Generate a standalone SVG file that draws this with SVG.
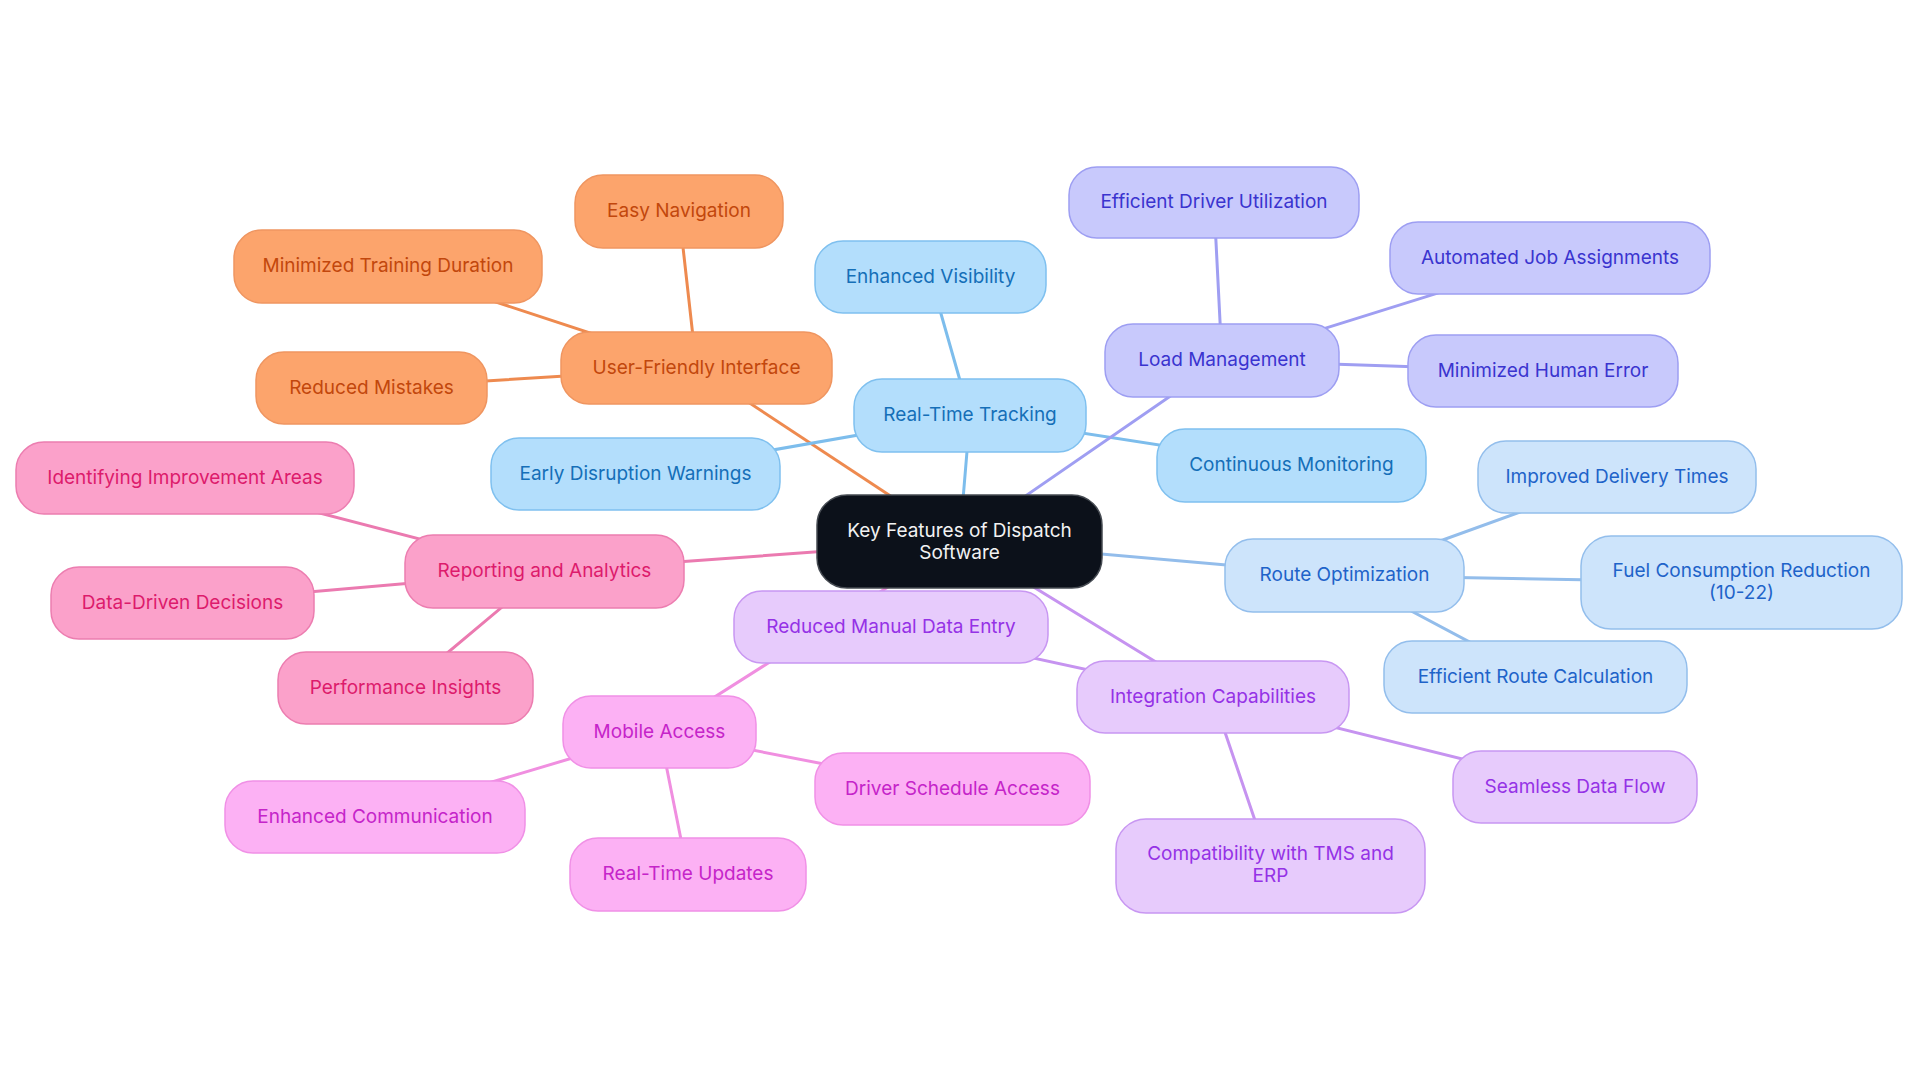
<svg xmlns="http://www.w3.org/2000/svg" width="1920" height="1083" viewBox="0 0 1920 1083">
<style>
text{font-family:Inter,"Noto Sans","Liberation Sans",sans-serif;font-size:19px;text-anchor:middle;dominant-baseline:central}
.e{stroke-width:3;fill:none;stroke-linecap:round}
rect{stroke-width:1.5}
.c0 rect{fill:#0c111a;stroke:#464b52}.c0 text{fill:#f2f2f2}
.o rect{fill:#fca46c;stroke:#ef9560}.o text{fill:#c2470c}.eo{stroke:#ee8a4f}
.b rect{fill:#b3defc;stroke:#7fc0ef}.b text{fill:#156fb8}.eb{stroke:#7dbdec}
.l rect{fill:#c8c9fc;stroke:#9d9ef2}.l text{fill:#3a34cf}.el{stroke:#9f9ef2}
.r rect{fill:#cde4fb;stroke:#93beec}.r text{fill:#1e63c9}.er{stroke:#93bdeb}
.i rect{fill:#e7cbfc;stroke:#c897f2}.i text{fill:#9532e6}.ei{stroke:#c693f0}
.m rect{fill:#fcb1f4;stroke:#f090e6}.m text{fill:#c524c9}.em{stroke:#f08fe0}
.p rect{fill:#fba1ca;stroke:#ec7db0}.p text{fill:#dd1b6c}.ep{stroke:#eb7ab0}
</style>
<rect x="0" y="0" width="1920" height="1083" fill="#ffffff" stroke="none"/>
<g id="connectors">
<line class="e eo" x1="959.5" y1="541.5" x2="696.5" y2="368"/>
<line class="e eo" x1="696.5" y1="368" x2="679" y2="211.5"/>
<line class="e eo" x1="696.5" y1="368" x2="388" y2="266.5"/>
<line class="e eo" x1="696.5" y1="368" x2="371.5" y2="388"/>
<line class="e eb" x1="959.5" y1="541.5" x2="970" y2="415.5"/>
<line class="e eb" x1="970" y1="415.5" x2="930.5" y2="277"/>
<line class="e eb" x1="970" y1="415.5" x2="635.5" y2="474"/>
<line class="e eb" x1="970" y1="415.5" x2="1291.5" y2="465.5"/>
<line class="e el" x1="959.5" y1="541.5" x2="1222" y2="360.5"/>
<line class="e el" x1="1222" y1="360.5" x2="1214" y2="202.5"/>
<line class="e el" x1="1222" y1="360.5" x2="1550" y2="258"/>
<line class="e el" x1="1222" y1="360.5" x2="1543" y2="371"/>
<line class="e er" x1="959.5" y1="541.5" x2="1344.5" y2="575.5"/>
<line class="e er" x1="1344.5" y1="575.5" x2="1617" y2="477"/>
<line class="e er" x1="1344.5" y1="575.5" x2="1741.5" y2="582.5"/>
<line class="e er" x1="1344.5" y1="575.5" x2="1535.5" y2="677"/>
<line class="e ei" x1="959.5" y1="541.5" x2="1213" y2="697"/>
<line class="e ei" x1="1213" y1="697" x2="891" y2="627"/>
<line class="e ei" x1="1213" y1="697" x2="1575" y2="787"/>
<line class="e ei" x1="1213" y1="697" x2="1270.5" y2="866"/>
<line class="e em" x1="959.5" y1="541.5" x2="659.5" y2="732"/>
<line class="e em" x1="659.5" y1="732" x2="375" y2="817"/>
<line class="e em" x1="659.5" y1="732" x2="952.5" y2="789"/>
<line class="e em" x1="659.5" y1="732" x2="688" y2="874.5"/>
<line class="e ep" x1="959.5" y1="541.5" x2="544.5" y2="571.5"/>
<line class="e ep" x1="544.5" y1="571.5" x2="185" y2="478"/>
<line class="e ep" x1="544.5" y1="571.5" x2="182.5" y2="603"/>
<line class="e ep" x1="544.5" y1="571.5" x2="405.5" y2="688"/>
</g>
<g id="n-center" class="c0"><rect x="817" y="495" width="285" height="93" rx="30"/><text x="959.5" y="530">Key Features of Dispatch</text><text x="959.5" y="552">Software</text></g>
<g id="n-ufi" class="o"><rect x="561" y="332" width="271" height="72" rx="28"/><text x="696.5" y="367">User-Friendly Interface</text></g>
<g id="n-en" class="o"><rect x="575" y="175" width="208" height="73" rx="28"/><text x="679" y="210.5">Easy Navigation</text></g>
<g id="n-mtd" class="o"><rect x="234" y="230" width="308" height="73" rx="28"/><text x="388" y="265.5">Minimized Training Duration</text></g>
<g id="n-rm" class="o"><rect x="256" y="352" width="231" height="72" rx="28"/><text x="371.5" y="387">Reduced Mistakes</text></g>
<g id="n-rtt" class="b"><rect x="854" y="379" width="232" height="73" rx="28"/><text x="970" y="414.5">Real-Time Tracking</text></g>
<g id="n-ev" class="b"><rect x="815" y="241" width="231" height="72" rx="28"/><text x="930.5" y="276">Enhanced Visibility</text></g>
<g id="n-edw" class="b"><rect x="491" y="438" width="289" height="72" rx="28"/><text x="635.5" y="473">Early Disruption Warnings</text></g>
<g id="n-cm" class="b"><rect x="1157" y="429" width="269" height="73" rx="28"/><text x="1291.5" y="464.5">Continuous Monitoring</text></g>
<g id="n-lm" class="l"><rect x="1105" y="324" width="234" height="73" rx="28"/><text x="1222" y="359.5">Load Management</text></g>
<g id="n-edu" class="l"><rect x="1069" y="167" width="290" height="71" rx="28"/><text x="1214" y="201.5">Efficient Driver Utilization</text></g>
<g id="n-aja" class="l"><rect x="1390" y="222" width="320" height="72" rx="28"/><text x="1550" y="257">Automated Job Assignments</text></g>
<g id="n-mhe" class="l"><rect x="1408" y="335" width="270" height="72" rx="28"/><text x="1543" y="370">Minimized Human Error</text></g>
<g id="n-ro" class="r"><rect x="1225" y="539" width="239" height="73" rx="28"/><text x="1344.5" y="574.5">Route Optimization</text></g>
<g id="n-idt" class="r"><rect x="1478" y="441" width="278" height="72" rx="28"/><text x="1617" y="476">Improved Delivery Times</text></g>
<g id="n-fcr" class="r"><rect x="1581" y="536" width="321" height="93" rx="30"/><text x="1741.5" y="570">Fuel Consumption Reduction</text><text x="1741.5" y="592">(10-22)</text></g>
<g id="n-erc" class="r"><rect x="1384" y="641" width="303" height="72" rx="28"/><text x="1535.5" y="676">Efficient Route Calculation</text></g>
<g id="n-ic" class="i"><rect x="1077" y="661" width="272" height="72" rx="28"/><text x="1213" y="696">Integration Capabilities</text></g>
<g id="n-rmde" class="i"><rect x="734" y="591" width="314" height="72" rx="28"/><text x="891" y="626">Reduced Manual Data Entry</text></g>
<g id="n-sdf" class="i"><rect x="1453" y="751" width="244" height="72" rx="28"/><text x="1575" y="786">Seamless Data Flow</text></g>
<g id="n-ctms" class="i"><rect x="1116" y="819" width="309" height="94" rx="30"/><text x="1270.5" y="853">Compatibility with TMS and</text><text x="1270.5" y="875">ERP</text></g>
<g id="n-ma" class="m"><rect x="563" y="696" width="193" height="72" rx="28"/><text x="659.5" y="731">Mobile Access</text></g>
<g id="n-ec" class="m"><rect x="225" y="781" width="300" height="72" rx="28"/><text x="375" y="816">Enhanced Communication</text></g>
<g id="n-dsa" class="m"><rect x="815" y="753" width="275" height="72" rx="28"/><text x="952.5" y="788">Driver Schedule Access</text></g>
<g id="n-rtu" class="m"><rect x="570" y="838" width="236" height="73" rx="28"/><text x="688" y="873.5">Real-Time Updates</text></g>
<g id="n-ra" class="p"><rect x="405" y="535" width="279" height="73" rx="28"/><text x="544.5" y="570.5">Reporting and Analytics</text></g>
<g id="n-iia" class="p"><rect x="16" y="442" width="338" height="72" rx="28"/><text x="185" y="477">Identifying Improvement Areas</text></g>
<g id="n-ddd" class="p"><rect x="51" y="567" width="263" height="72" rx="28"/><text x="182.5" y="602">Data-Driven Decisions</text></g>
<g id="n-pi" class="p"><rect x="278" y="652" width="255" height="72" rx="28"/><text x="405.5" y="687">Performance Insights</text></g>
</svg>
